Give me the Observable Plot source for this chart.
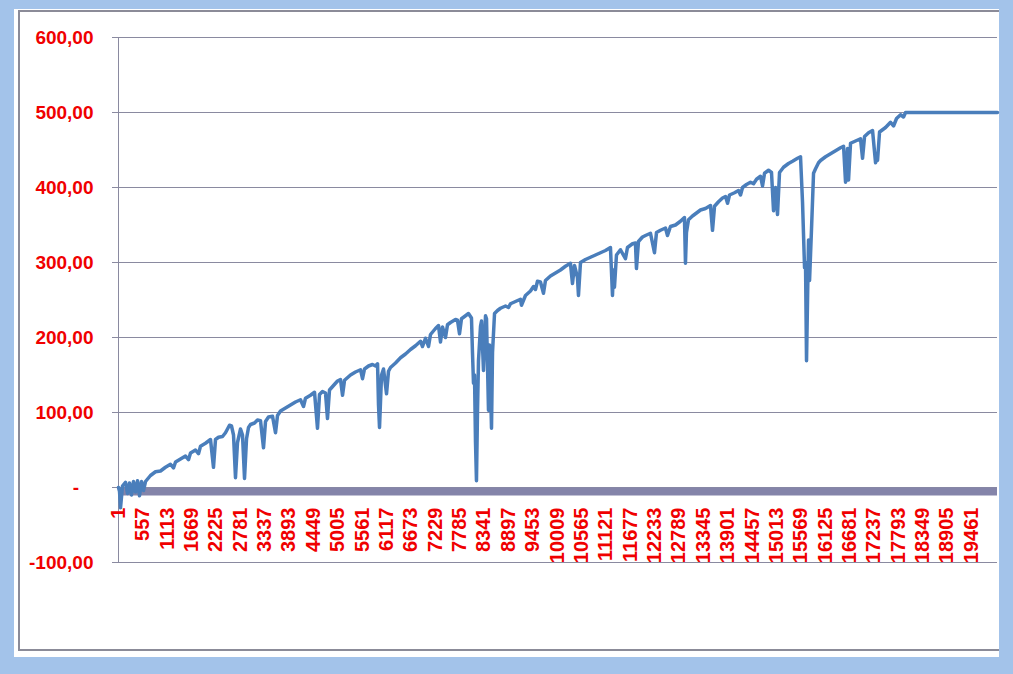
<!DOCTYPE html>
<html><head><meta charset="utf-8">
<script src="https://cdn.jsdelivr.net/npm/d3@7"></script>
<script src="https://cdn.jsdelivr.net/npm/@observablehq/plot@0.6"></script>
<style>
html,body{margin:0;padding:0;}
body{width:1013px;height:674px;background:#a3c3ea;position:relative;overflow:hidden;}
#panel{position:absolute;left:14px;top:9px;width:985px;height:648px;background:#fff;}
#frame{position:absolute;left:18px;top:10px;width:981px;height:641px;border-top:2px solid #8b8b98;border-left:2px solid #8b8b98;border-bottom:2px solid #8b8b98;box-sizing:border-box;}
#chart{position:absolute;left:0;top:0;}
</style></head><body>
<div id="panel"></div><div id="frame"></div><div id="chart"></div>
<script>
// Row index (category) of each read point
const rowIndex = [
  1,24,47,92,161,206,252,298,343,389,
  435,480,526,571,617,731,845,959,1073,1187,
  1256,1302,1416,1530,1598,1644,1758,1826,1872,1986,
  2100,2168,2214,2283,2374,2442,2533,2579,2625,2670,
  2716,2785,2830,2876,2922,2967,3013,3104,3172,3241,
  3309,3355,3423,3515,3583,3629,3697,3811,3925,4039,
  4153,4222,4267,4381,4473,4541,4587,4655,4724,4769,
  4815,4906,4998,5066,5112,5158,5294,5408,5523,5568,
  5614,5705,5796,5865,5911,5933,5956,6002,6047,6116,
  6161,6207,6321,6435,6549,6663,6777,6891,6937,7005,
  7074,7119,7233,7302,7347,7393,7461,7507,7575,7689,
  7735,7781,7826,7918,7986,8054,8077,8100,8123,8146,
  8168,8191,8214,8260,8283,8328,8374,8397,8442,8465,
  8511,8534,8580,8648,8716,8830,8899,8944,9058,9172,
  9195,9286,9400,9469,9514,9560,9628,9697,9742,9856,
  9970,10084,10198,10312,10358,10404,10472,10495,10541,10655,
  10769,10883,10997,11111,11225,11271,11294,11316,11362,11453,
  11567,11613,11727,11795,11818,11864,11955,12024,12138,12229,
  12275,12366,12480,12526,12594,12708,12822,12913,12936,12959,
  13005,13096,13188,13279,13393,13507,13553,13599,13690,13781,
  13850,13896,13941,14055,14147,14192,14238,14329,14420,14489,
  14557,14648,14694,14740,14831,14899,14945,14991,15036,15082,
  15173,15287,15379,15493,15561,15607,15653,15675,15698,15721,
  15744,15767,15812,15858,15904,15972,16018,16132,16246,16360,
  16474,16543,16588,16634,16657,16702,16816,16930,16976,17022,
  17113,17204,17273,17296,17318,17364,17501,17615,17683,17752,
  17843,17911,17957,20055
];
// Cumulative value at each of those rows
const cumValue = [
  0,-5,-27,2,7,-8,6,-10,8,-6,
  9,-11,8,-4,8,16,21,22,27,31,
  26,34,38,42,37,46,50,45,55,59,
  64,27,64,67,68,73,83,82,70,13,
  60,78,70,12,65,80,84,86,90,89,
  53,88,94,95,73,96,102,106,110,114,
  117,108,119,123,127,79,124,128,126,92,
  130,136,142,144,123,143,150,154,157,145,
  158,162,164,162,165,110,80,150,158,125,
  155,160,166,173,178,184,189,195,188,199,
  188,204,212,216,194,214,200,217,220,224,
  223,205,225,229,232,226,180,139,150,60,
  9,100,169,215,222,156,229,225,103,190,
  79,180,232,236,239,242,240,245,248,251,
  243,256,262,268,264,275,274,259,276,282,
  286,290,295,299,272,296,280,256,300,304,
  307,310,313,316,320,256,290,267,310,317,
  305,320,325,326,292,328,334,336,339,313,
  340,343,346,336,348,350,355,360,299,340,
  357,362,366,370,372,376,343,375,381,386,
  388,379,390,393,396,390,400,404,407,405,
  411,415,402,419,423,420,369,400,364,420,
  427,432,435,439,441,380,293,300,169,250,
  330,276,345,419,425,433,436,441,445,449,
  453,455,407,452,410,459,462,465,439,468,
  473,476,433,445,436,474,480,487,482,492,
  497,494,500,500
];
const xTickLabels = [1,557,1113,1669,2225,2781,3337,3893,4449,5005,5561,6117,6673,7229,7785,8341,8897,9453,10009,10565,11121,11677,12233,12789,13345,13901,14457,15013,15569,16125,16681,17237,17793,18349,18905,19461];
const yTickValues = [-100,0,100,200,300,400,500,600];

const data = rowIndex.map((r, k) => ({i: r, v: cumValue[k]}));
const red = "#f00000";
const gridColor = "#8a8aa0";
const fmtY = d => d === 0 ? "-\u00a0\u00a0\u2009" : d.toFixed(2).replace(".", ",");

const chart = Plot.plot({
  width: 1013, height: 674,
  marginLeft: 118, marginRight: 16, marginTop: 37, marginBottom: 112,
  style: {background: "transparent", fontFamily: "Arial, 'Liberation Sans', sans-serif", fontWeight: "bold", overflow: "visible"},
  x: {domain: [1, 20055], axis: null},
  y: {domain: [-100, 600]},
  marks: [
    Plot.gridY({ticks: yTickValues, stroke: gridColor, strokeOpacity: 1}),
    Plot.axisY({ticks: yTickValues, tickSize: 6, tickPadding: 19, tickFormat: fmtY, stroke: gridColor, strokeOpacity: 1, fill: red, fontSize: 19, fontWeight: "bold", label: null}),
    Plot.ruleX([1], {stroke: gridColor}),
    Plot.ruleY([0], {stroke: "#8484a9", strokeWidth: 8, dy: 4}),
    Plot.line(data, {x: "i", y: "v", stroke: "#4a7ebb", strokeWidth: 3.5, strokeLinejoin: "round"}),
    Plot.text(xTickLabels, {x: d => d, y: () => 0, text: d => String(d), rotate: -90, textAnchor: "end", lineAnchor: "middle", dy: 20, fill: red, fontSize: 20, fontWeight: "bold"})
  ]
});
document.getElementById("chart").appendChild(chart);
</script>
</body></html>
